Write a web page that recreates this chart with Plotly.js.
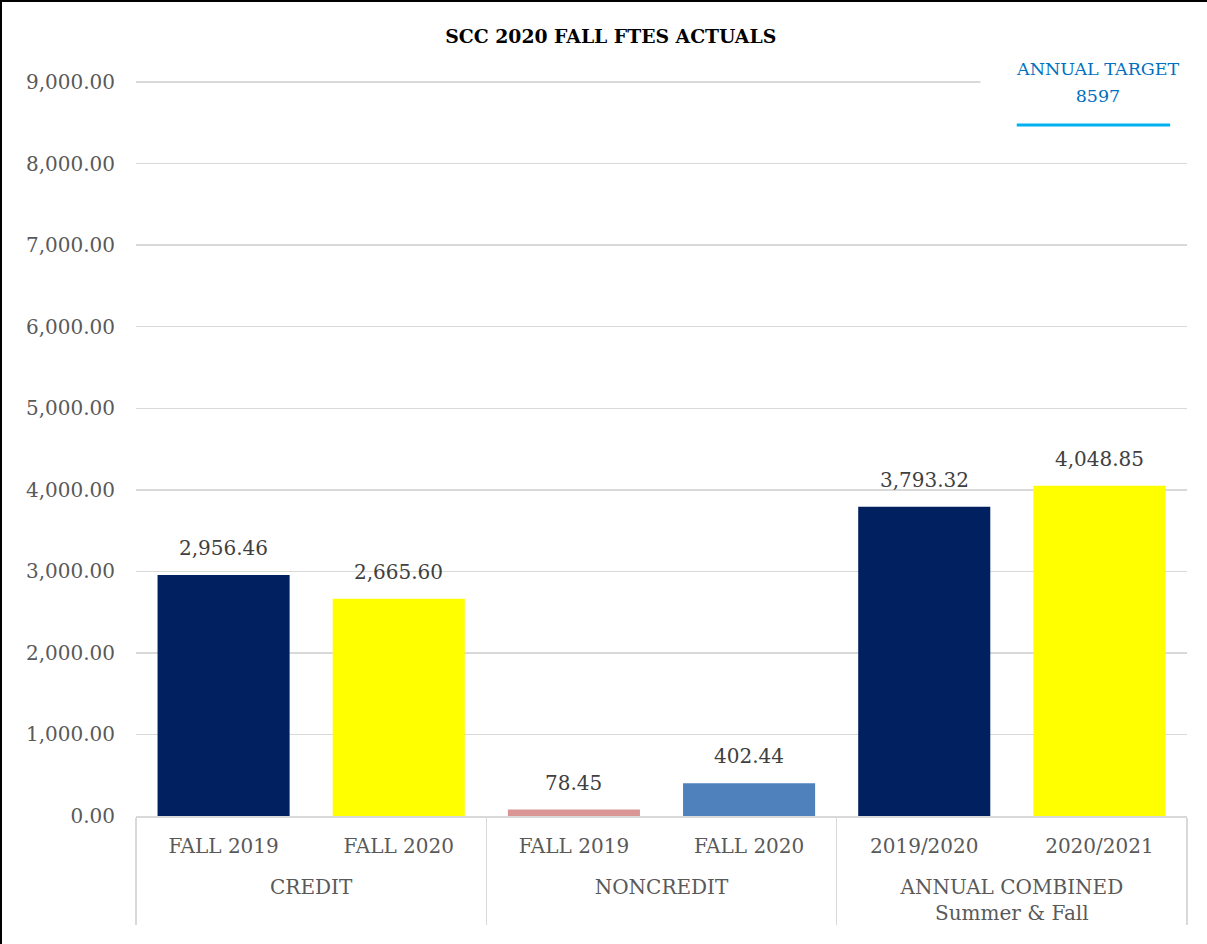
<!DOCTYPE html>
<html>
<head>
<meta charset="utf-8">
<script src="https://cdn.plot.ly/plotly-3.0.1.min.js"></script>
<style>
  html, body { margin: 0; padding: 0; background: #fff; }
  #chart { width: 1207px; height: 944px; position: absolute; left: 0; top: 0; }
  #frame { position: absolute; left: 0; top: 0; width: 1207px; height: 944px; box-sizing: border-box;
           border-left: 2px solid #000; border-top: 2px solid #000; pointer-events: none; }
</style>
</head>
<body>
<div id="chart"></div>
<div id="frame"></div>
<script>
const groups = ["CREDIT", "CREDIT", "NONCREDIT", "NONCREDIT",
                "ANNUAL COMBINED<br>Summer & Fall", "ANNUAL COMBINED<br>Summer & Fall"];
const periods = ["FALL 2019", "FALL 2020", "FALL 2019", "FALL 2020", "2019/2020", "2020/2021"];
const values = [2956.46, 2665.60, 78.45, 402.44, 3793.32, 4048.85];
const barColors = ["#002060", "#FFFF00", "#DA9694", "#4F81BD", "#002060", "#FFFF00"];
const yTicks = [0, 1000, 2000, 3000, 4000, 5000, 6000, 7000, 8000, 9000];
const targetName = "ANNUAL TARGET";
const targetValue = 8597;
const FONT = "DejaVu Serif";

const fmt = v => v.toLocaleString("en-US", { minimumFractionDigits: 2, maximumFractionDigits: 2 });

// group labels sit one text line lower than Plotly's default spacing
const groupLabels = groups.map(g => "<br>" + g);

const trace = {
  type: "bar",
  x: [groupLabels, periods],
  y: values,
  marker: { color: barColors },
  hoverinfo: "none",
  showlegend: false
};

const valueLabels = values.map((v, i) => ({
  xref: "x", yref: "y", x: i, y: v, xanchor: "center", yanchor: "middle", yshift: 27,
  text: fmt(v), showarrow: false,
  font: { family: FONT, size: 20, color: "#404040" }
}));

const layout = {
  width: 1207, height: 944,
  margin: { l: 136, r: 20, t: 78, b: 128 },
  paper_bgcolor: "#fff", plot_bgcolor: "#fff",
  font: { family: FONT, color: "#595959" },
  bargap: 0.246,
  title: { text: "<b>SCC 2020 FALL FTES ACTUALS</b>", x: 0.506, xanchor: "center", y: 0.961, yanchor: "middle",
           font: { family: FONT, size: 18.8, color: "#000" } },
  xaxis: {
    type: "multicategory",
    showline: true, linecolor: "#D9D9D9", linewidth: 1.5,
    showdividers: true, dividercolor: "#D9D9D9", dividerwidth: 1.5,
    ticklabelstandoff: 11,
    tickfont: { family: FONT, size: 20, color: "#595959" },
    ticks: "", showgrid: false
  },
  yaxis: {
    range: [0, 9050], tickvals: yTicks, tickformat: ",.2f",
    showgrid: true, gridcolor: "#D9D9D9", gridwidth: 1.5,
    zeroline: false, showline: false, ticks: "",
    ticklabelstandoff: 20,
    tickfont: { family: FONT, size: 20, color: "#595959" }
  },
  annotations: valueLabels.concat([
    {
      xref: "paper", yref: "paper", x: 0.9155, y: 0.9756, xanchor: "center", yanchor: "middle",
      text: String(targetValue), showarrow: false, align: "center",
      font: { family: FONT, size: 17.5, color: "#0070C0" },
      bgcolor: "#fff", width: 232, height: 34
    },
    {
      xref: "paper", yref: "paper", x: 0.9155, y: 1.0122, xanchor: "center", yanchor: "middle",
      text: targetName, showarrow: false, align: "center",
      font: { family: FONT, size: 17.5, color: "#0070C0" }
    }
  ]),
  shapes: [{
    type: "line", xref: "paper", yref: "paper",
    x0: 0.838, x1: 0.984, y0: 0.9363, y1: 0.9363,
    line: { color: "#00B0F0", width: 3 }
  }]
};

Plotly.newPlot("chart", [trace], layout, { displayModeBar: false, staticPlot: true });
</script>
</body>
</html>
